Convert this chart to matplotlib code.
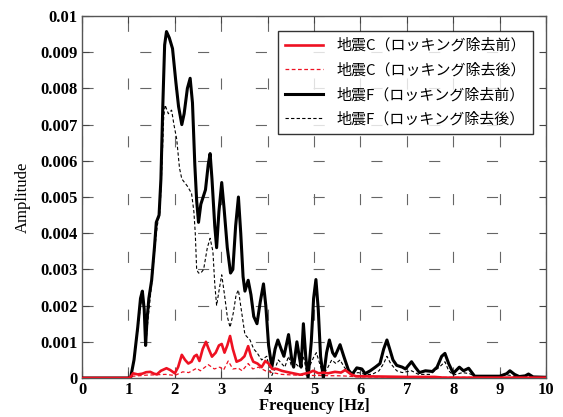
import matplotlib
matplotlib.use("Agg")
import matplotlib.pyplot as plt

# 地震F（ロッキング除去前）
f_F_before = [0, 1.0, 1.05, 1.12, 1.2, 1.26, 1.3, 1.34, 1.37, 1.4, 1.44, 1.5, 1.56, 1.6, 1.66,
              1.7, 1.74, 1.78, 1.82, 1.88, 1.95, 2.02, 2.08, 2.15, 2.2, 2.27, 2.33, 2.38, 2.43,
              2.47, 2.51, 2.56, 2.61, 2.66, 2.72, 2.76, 2.8, 2.86, 2.9, 2.95, 3.01, 3.06, 3.13,
              3.2, 3.25, 3.31, 3.37, 3.42, 3.47, 3.51, 3.58, 3.64, 3.7, 3.77, 3.84, 3.91, 3.96,
              4.02, 4.09, 4.16, 4.22, 4.29, 4.35, 4.45, 4.52, 4.56, 4.63, 4.68, 4.72, 4.77, 4.82,
              4.87, 4.94, 4.99, 5.04, 5.09, 5.14, 5.2, 5.27, 5.33, 5.4, 5.45, 5.56, 5.64, 5.74,
              5.82, 5.92, 6.03, 6.1, 6.21, 6.32, 6.42, 6.5, 6.57, 6.63, 6.7, 6.78, 6.9, 6.97,
              7.1, 7.18, 7.27, 7.4, 7.55, 7.65, 7.75, 7.82, 7.9, 8.0, 8.13, 8.22, 8.33, 8.46,
              8.7, 9.0, 9.15, 9.22, 9.32, 9.42, 9.55, 9.62, 9.72, 10.0]
a_F_before = [0, 0, 0.00003, 0.0005, 0.0014, 0.0022, 0.0024, 0.0019, 0.0009, 0.0016, 0.0022,
              0.0027, 0.0036, 0.0043, 0.0045, 0.0055, 0.0075, 0.0092, 0.00957, 0.0094, 0.0091,
              0.0082, 0.0075, 0.0070, 0.0073, 0.0080, 0.00828, 0.0076, 0.0059, 0.0049, 0.0043,
              0.0048, 0.0050, 0.0052, 0.0059, 0.0062, 0.0055, 0.0042, 0.0036, 0.0046, 0.0054,
              0.0047, 0.0036, 0.0029, 0.0030, 0.0042, 0.0050, 0.0040, 0.0028, 0.0024, 0.0027,
              0.0023, 0.0017, 0.0015, 0.0021, 0.0026, 0.0020, 0.0009, 0.0003, 0.0008, 0.00105,
              0.0008, 0.0006, 0.0012, 0.0005, 0.0003, 0.0010, 0.0006, 0.0003, 0.0015, 0.0006,
              0.0, 0.0010, 0.0022, 0.00272, 0.0019, 0.0006, 0.0, 0.0007, 0.00105, 0.0007,
              0.0006, 0.00092, 0.0006, 0.00022, 0.0001, 0.00028, 0.00025, 0.00012, 0.0002,
              0.0003, 0.0004, 0.0008, 0.00105, 0.0008, 0.0005, 0.00035, 0.0003, 0.00025,
              0.00045, 0.0003, 0.00015, 0.0002, 0.00018, 0.0003, 0.0006, 0.00068, 0.0004,
              0.00013, 0.0003, 0.0002, 0.00027, 0.00005, 0.00005, 0.00005, 0.00012, 0.0002,
              0.0001, 0.00004, 0.00006, 0.00011, 0.00003, 0.00002]

# 地震F（ロッキング除去後）
f_F_after = [0, 1.0, 1.05, 1.12, 1.2, 1.26, 1.3, 1.35, 1.38, 1.42, 1.5, 1.57, 1.62, 1.68, 1.72,
             1.76, 1.79, 1.86, 1.93, 1.98, 2.04, 2.1, 2.15, 2.21, 2.27, 2.36, 2.41, 2.44, 2.47,
             2.51, 2.56, 2.62, 2.7, 2.76, 2.82, 2.86, 2.9, 2.95, 3.01, 3.07, 3.13, 3.19, 3.26,
             3.32, 3.37, 3.43, 3.51, 3.62, 3.7, 3.77, 3.87, 3.98, 4.05, 4.09, 4.17, 4.23, 4.3,
             4.37, 4.45, 4.52, 4.6, 4.68, 4.77, 4.85, 4.93, 5.0, 5.05, 5.12, 5.2, 5.3, 5.38,
             5.47, 5.56, 5.65, 5.78, 5.95, 6.1, 6.25, 6.4, 6.5, 6.57, 6.65, 6.78, 6.9, 7.1,
             7.25, 7.5, 7.7, 7.82, 7.9, 8.0, 8.2, 8.35, 8.5, 9.2, 9.4, 9.6, 10.0]
a_F_after = [0, 0, 0.00003, 0.0005, 0.0013, 0.0020, 0.0022, 0.0017, 0.0010, 0.0016, 0.0026,
             0.0036, 0.0042, 0.0046, 0.0058, 0.0072, 0.00754, 0.0073, 0.0074, 0.0070, 0.0066,
             0.0058, 0.0055, 0.0054, 0.0053, 0.0051, 0.0046, 0.0040, 0.0030, 0.0029, 0.0029,
             0.0030, 0.0036, 0.00386, 0.0035, 0.0026, 0.0020, 0.0024, 0.00285, 0.0023, 0.0017,
             0.0014, 0.0018, 0.0023, 0.00243, 0.0019, 0.0012, 0.00105, 0.0008, 0.0007, 0.0005,
             0.0006, 0.0002, 0.00007, 0.0003, 0.0005, 0.0004, 0.0003, 0.0006, 0.0003, 0.0004,
             0.0003, 0.0006, 0.0001, 0.0004, 0.0006, 0.0007, 0.0004, 0.0001, 0.0003, 0.0005,
             0.0004, 0.0005, 0.0003, 0.0001, 0.00015, 0.0001, 0.0001, 0.0002, 0.0004, 0.0006,
             0.0004, 0.0002, 0.00015, 0.0002, 0.0001, 0.0001, 0.0003, 0.00045, 0.0002, 0.00008,
             0.00015, 0.00012, 0.00003, 0.00008, 0.00002, 0.00005, 0.00001]

# 地震C（ロッキング除去前）
f_C_before = [0, 1.0, 1.05, 1.1, 1.2, 1.3, 1.38, 1.47, 1.55, 1.61, 1.7, 1.82, 1.9, 2.0, 2.07,
              2.15, 2.22, 2.29, 2.36, 2.42, 2.47, 2.53, 2.6, 2.67, 2.73, 2.8, 2.88, 2.95, 3.01,
              3.07, 3.13, 3.19, 3.25, 3.33, 3.42, 3.5, 3.58, 3.64, 3.69, 3.78, 3.87, 3.95, 4.02,
              4.1, 4.2, 4.3, 4.4, 4.55, 4.7, 4.8, 4.9, 4.98, 5.1, 5.2, 5.3, 5.45, 5.58, 5.67,
              5.8, 5.9, 6.5, 7.0, 7.6, 7.8, 10.0]
a_C_before = [0, 0, 0.00003, 0.00013, 0.0001, 0.00012, 0.00016, 0.00017, 0.00012, 0.0001,
              0.0002, 0.00027, 0.00022, 0.00013, 0.0003, 0.00064, 0.0005, 0.0004, 0.00045,
              0.0006, 0.00064, 0.00047, 0.0008, 0.0010, 0.0008, 0.00059, 0.0007, 0.0009,
              0.00094, 0.0007, 0.0009, 0.00116, 0.0008, 0.00045, 0.0005, 0.0006, 0.00088,
              0.0006, 0.00045, 0.0004, 0.0003, 0.00047, 0.0004, 0.00025, 0.00025, 0.0002,
              0.00017, 0.00013, 0.00009, 0.00012, 0.00015, 0.0002, 0.00013, 0.00015, 0.00013,
              0.00017, 0.00015, 0.00022, 0.0001, 0.00005, 0.00004, 0.00003, 0.00003, 0.00001,
              0.00001]

# 地震C（ロッキング除去後）
f_C_after = [0, 1.0, 1.1, 1.4, 1.8, 2.0, 2.17, 2.3, 2.47, 2.55, 2.72, 2.85, 2.97, 3.05, 3.15,
             3.25, 3.37, 3.45, 3.58, 3.68, 3.8, 3.95, 4.1, 4.3, 4.6, 5.0, 5.6, 6.0, 10.0]
a_C_after = [0, 0, 0.00005, 0.00008, 0.0001, 0.00007, 0.00017, 0.00015, 0.00027, 0.0002,
             0.00037, 0.00025, 0.0003, 0.00022, 0.00047, 0.00025, 0.00027, 0.0002, 0.0004,
             0.00025, 0.0003, 0.0002, 0.00015, 0.0001, 0.00008, 0.00007, 0.00006, 0.00003,
             0.00001]

xticks = list(range(0, 11))
yticks = [0, 0.001, 0.002, 0.003, 0.004, 0.005, 0.006, 0.007, 0.008, 0.009, 0.01]
yticklabels = ["0", "0.001", "0.002", "0.003", "0.004", "0.005", "0.006", "0.007",
               "0.008", "0.009", "0.01"]

serif = ["Liberation Serif", "DejaVu Serif"]
jp = ["Noto Sans CJK JP", "DejaVu Sans"]

fig = plt.figure(figsize=(5.63, 4.17), dpi=100)
ax = fig.add_axes([0.1457, 0.0935, 0.8243, 0.8681])

ax.plot(f_C_before, a_C_before, color="#ee1122", lw=1.9, label="地震C（ロッキング除去前）", zorder=4)
ax.plot(f_C_after, a_C_after, color="#ee1122", lw=0.9, ls=(0, (3, 2)),
        label="地震C（ロッキング除去後）", zorder=3)
ax.plot(f_F_before, a_F_before, color="black", lw=2.2, label="地震F（ロッキング除去前）", zorder=3)
ax.plot(f_F_after, a_F_after, color="black", lw=0.8, ls=(0, (3, 2)),
        label="地震F（ロッキング除去後）", zorder=2)

ax.set_xlim(0, 10)
ax.set_ylim(0, 0.01)
ax.set_xticks(xticks)
ax.set_yticks(yticks)
ax.set_yticklabels(yticklabels)
for lab in ax.get_xticklabels() + ax.get_yticklabels():
    lab.set_family(serif)
    lab.set_fontweight("bold")
    lab.set_fontsize(12)

ax.tick_params(direction="in", length=5, width=0.8, color="#444444",
               top=True, right=True, pad=3)
ax.grid(True, color="#666666", lw=0.8, ls=(0, (10, 42)))
for sp in ax.spines.values():
    sp.set_color("#555555")
    sp.set_linewidth(1.0)

ax.set_xlabel("Frequency [Hz]", family=serif, fontweight="bold", fontsize=12, labelpad=0)
ax.set_ylabel("Amplitude", family=serif, fontsize=12, labelpad=7)

# legend with the handle lines in front of each label
leg = ax.legend(loc="upper right", bbox_to_anchor=(0.972, 0.959), borderaxespad=0,
                prop={"family": jp, "size": 10.8}, frameon=True, fancybox=False,
                handlelength=2.5, handletextpad=0.9, labelspacing=0.68, borderpad=0.5)
leg.get_frame().set_edgecolor("black")
leg.get_frame().set_linewidth(1.0)

fig.savefig("out.png", dpi=100)
